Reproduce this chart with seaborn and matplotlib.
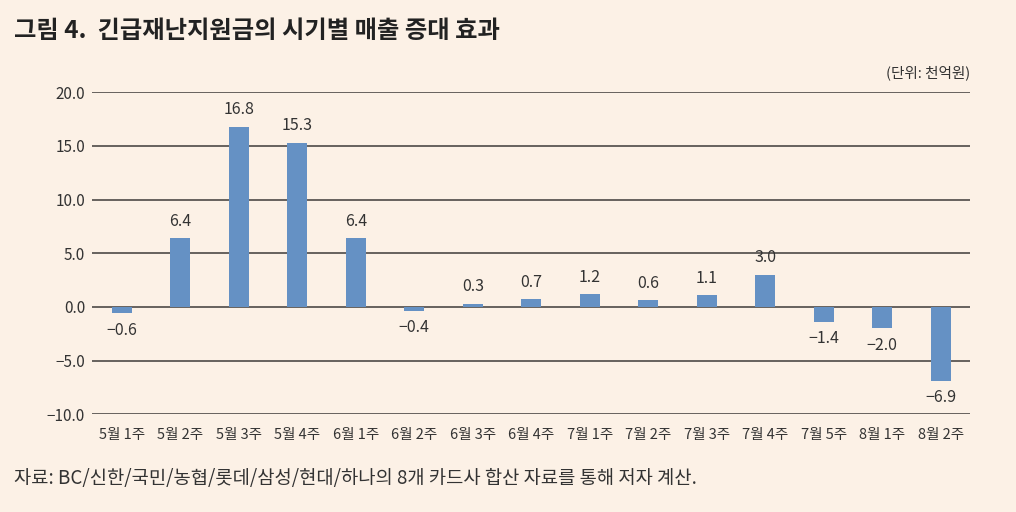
import matplotlib
matplotlib.use("Agg")
import matplotlib.pyplot as plt
import seaborn as sns
import pandas as pd

weeks = ["5월 1주", "5월 2주", "5월 3주", "5월 4주", "6월 1주", "6월 2주", "6월 3주", "6월 4주",
         "7월 1주", "7월 2주", "7월 3주", "7월 4주", "7월 5주", "8월 1주", "8월 2주"]
values = [-0.6, 6.4, 16.8, 15.3, 6.4, -0.4, 0.3, 0.7, 1.2, 0.6, 1.1, 3.0, -1.4, -2.0, -6.9]
yticks = [-10, -5, 0, 5, 10, 15, 20]

sns.set_theme(style="white")
plt.rcParams['font.family'] = ['Noto Sans CJK KR', 'DejaVu Sans']
plt.rcParams['axes.unicode_minus'] = True

bg = "#FCF1E6"
bar_color = "#6591C4"
df = pd.DataFrame({"week": weeks, "value": values})

fig = plt.figure(figsize=(10.16, 5.12), dpi=100, facecolor=bg)
ax = fig.add_axes([0.0906, 0.191, 0.864, 0.629])
ax.set_facecolor(bg)

for t in yticks:
    ax.axhline(t, color="#66625e", lw=1.4, zorder=0)

sns.barplot(data=df, x="week", y="value", color=bar_color, width=0.34,
            saturation=1, linewidth=0, ax=ax, zorder=2)

for i, v in enumerate(values):
    lab = f"{v:.1f}".replace("-", "−")
    if v >= 0:
        ax.annotate(lab, (i, v), xytext=(0, 6), textcoords="offset points",
                    ha="center", va="bottom", fontsize=11.5, color="#333333")
    else:
        ax.annotate(lab, (i, v), xytext=(0, -6), textcoords="offset points",
                    ha="center", va="top", fontsize=11.5, color="#333333")

ax.set_xlim(-0.51, 14.5)
ax.set_ylim(-10, 20)
ax.set_yticks(yticks)
ax.set_yticklabels([f"{t:.1f}".replace("-", "−") for t in yticks], fontsize=11, color="#333333")
ax.tick_params(axis="x", labelsize=10.5, colors="#333333", length=0, pad=10)
ax.tick_params(axis="y", length=0, pad=5)
ax.set_xlabel("")
ax.set_ylabel("")
for s in ax.spines.values():
    s.set_visible(False)

fig.text(0.014, 0.94, "그림 4.  긴급재난지원금의 시기별 매출 증대 효과", fontsize=17.5,
         fontweight="bold", color="#222222", ha="left", va="center")
fig.text(0.955, 0.857, "(단위: 천억원)", fontsize=10.5, color="#333333", ha="right", va="center")
fig.text(0.014, 0.066, "자료: BC/신한/국민/농협/롯데/삼성/현대/하나의 8개 카드사 합산 자료를 통해 저자 계산.",
         fontsize=13.5, color="#333333", ha="left", va="center")

fig.savefig("out.png", dpi=100, facecolor=bg)
